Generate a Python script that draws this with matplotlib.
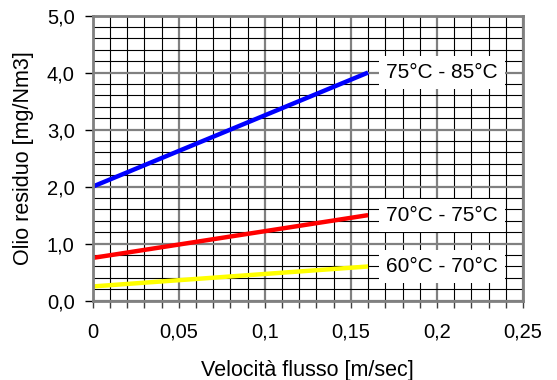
import numpy as np
import matplotlib.pyplot as plt
from matplotlib.ticker import MultipleLocator, FuncFormatter

# Dati
velocita = [0.0, 0.16]
olio_75_85 = [2.0, 4.0]
olio_70_75 = [0.75, 1.5]
olio_60_70 = [0.25, 0.6]
serie = [
    (olio_75_85, '#0000FF', '75°C - 85°C'),
    (olio_70_75, '#FF0000', '70°C - 75°C'),
    (olio_60_70, '#FFFF00', '60°C - 70°C'),
]

plt.rcParams['font.family'] = ['Liberation Sans', 'DejaVu Sans']

fig = plt.figure(figsize=(5.57, 3.80), dpi=100)
ax = fig.add_axes([92.7 / 557, 1 - 300.7 / 380, (523 - 92.7) / 557, (300.7 - 15.5) / 380])

ax.set_xlim(0, 0.25)
ax.set_ylim(0, 5)

# Griglia
ax.xaxis.set_major_locator(MultipleLocator(0.05))
ax.xaxis.set_minor_locator(MultipleLocator(0.01))
ax.yaxis.set_major_locator(MultipleLocator(1.0))
ax.yaxis.set_minor_locator(MultipleLocator(0.2))
ax.grid(which='minor', color='black', linewidth=0.8)
ax.grid(which='major', color='#808080', linewidth=1.6)
ax.set_axisbelow(True)

ax.xaxis.set_major_formatter(FuncFormatter(lambda v, p: ('%g' % round(v, 2)).replace('.', ',')))
ax.yaxis.set_major_formatter(FuncFormatter(lambda v, p: ('%.1f' % v).replace('.', ',')))

ax.tick_params(axis='x', which='both', direction='out', length=5, width=1, color='#404040', labelsize=14.5, pad=11)
ax.tick_params(axis='y', which='major', direction='out', length=6, width=1, color='black', labelsize=14.5, pad=7)
ax.tick_params(axis='y', which='minor', length=0)

for s in ax.spines.values():
    s.set_color('#808080')
    s.set_linewidth(2)

for valori, colore, etichetta in serie:
    ax.plot(velocita, valori, color=colore, linewidth=3.2, solid_capstyle='butt')
    ax.text(0.1705, valori[1], etichetta, fontsize=15, va='center', ha='left',
            bbox=dict(facecolor='white', edgecolor='none', pad=5))

ax.set_xlabel('Velocità flusso [m/sec]', fontsize=15.5, labelpad=13)
ax.set_ylabel('Olio residuo [mg/Nm3]', fontsize=15.5, labelpad=9)

fig.savefig('out.png', dpi=100)
